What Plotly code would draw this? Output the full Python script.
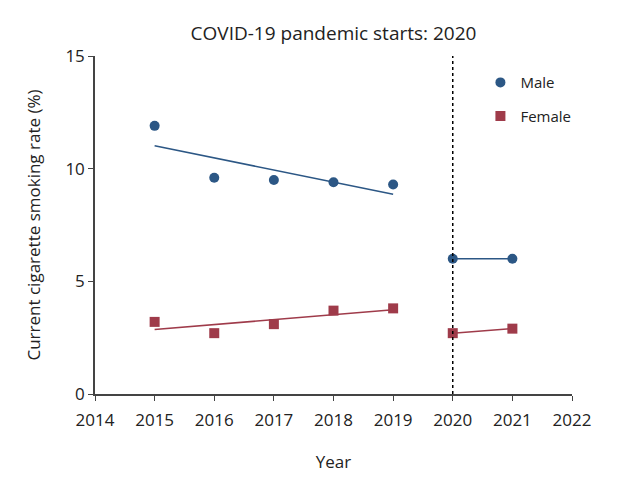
import numpy as np
import plotly.graph_objects as go

years_pre = [2015, 2016, 2017, 2018, 2019]
years_post = [2020, 2021]
male_pre = [11.9, 9.6, 9.5, 9.4, 9.3]
male_post = [6.0, 6.0]
female_pre = [3.2, 2.7, 3.1, 3.7, 3.8]
female_post = [2.7, 2.9]
x_ticks = [2014, 2015, 2016, 2017, 2018, 2019, 2020, 2021, 2022]
y_ticks = [0, 5, 10, 15]

BLUE = "#2c5785"
RED = "#9f3b4a"
FONT = "Open Sans, Noto Sans, sans-serif"


def fit(xs, ys):
    k, b = np.polyfit(xs, ys, 1)
    return [xs[0], xs[-1]], [k * xs[0] + b, k * xs[-1] + b]


fig = go.Figure()

for xs, ys, col in [(years_pre, male_pre, BLUE), (years_post, male_post, BLUE),
                    (years_pre, female_pre, RED), (years_post, female_post, RED)]:
    lx, ly = fit(xs, ys)
    fig.add_trace(go.Scatter(x=lx, y=ly, mode="lines", line=dict(color=col, width=1.5),
                             showlegend=False, hoverinfo="skip"))

fig.add_trace(go.Scatter(x=years_pre + years_post, y=male_pre + male_post, mode="markers",
                         name="Male", legendgroup="m",
                         marker=dict(symbol="circle", size=10, color=BLUE)))
fig.add_trace(go.Scatter(x=years_pre + years_post, y=female_pre + female_post, mode="markers",
                         name="Female", legendgroup="f",
                         marker=dict(symbol="square", size=10, color=RED)))

fig.add_shape(type="line", x0=2020, x1=2020, y0=0, y1=15, xref="x", yref="y",
              line=dict(color="black", width=1.5, dash="dot"))

axis_common = dict(showgrid=False, zeroline=False, showline=True, linecolor="#444",
                   linewidth=1.5, ticks="outside", ticklen=5, tickcolor="#444",
                   tickfont=dict(size=17, color="#222", family=FONT))

fig.update_xaxes(range=[2014, 2022], tickvals=x_ticks, ticklabelstandoff=5, **axis_common,
                 title=dict(text="Year", font=dict(size=17, color="#222", family=FONT), standoff=26))
fig.update_yaxes(range=[0, 15], tickvals=y_ticks, **axis_common,
                 title=dict(text="Current cigarette smoking rate (%)",
                            font=dict(size=17, color="#222", family=FONT), standoff=20))

fig.update_layout(
    width=618, height=488,
    margin=dict(l=95, r=46, t=56, b=94),
    plot_bgcolor="white", paper_bgcolor="white",
    title=dict(text="COVID-19 pandemic starts: 2020", x=0.5, xanchor="center", xref="paper",
               y=0.932, yanchor="middle",
               font=dict(size=19, color="#222", family=FONT)),
    legend=dict(x=0.808, y=0.97, xanchor="left", yanchor="top", bgcolor="rgba(0,0,0,0)",
                font=dict(size=15, color="#222", family=FONT), tracegroupgap=11,
                traceorder="grouped", itemwidth=30),
    showlegend=True,
)

fig.write_html("out.html", config={"displayModeBar": False},
               post_script="document.body.style.margin='0px';")
